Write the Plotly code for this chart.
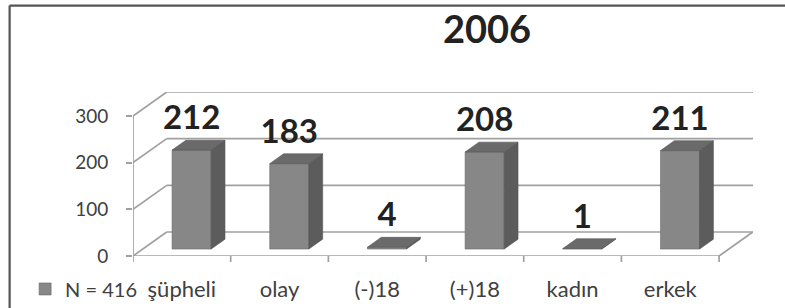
import plotly.graph_objects as go

# ---- data ----
categories = ["şüpheli", "olay", "(-)18", "(+)18", "kadın", "erkek"]
values = [212, 183, 4, 208, 1, 211]
series_name = "N = 416"
title_text = "2006"
y_ticks = [0, 100, 200, 300]

# ---- 3D look parameters (style) ----
DX, DY = 0.345, 51.4        # depth vector of the floor (category units, value units)
F_FRONT, F_BACK = 0.29, 0.70  # depth fraction of bar front / back faces
BAR_W = 0.40
FRONT_C, SIDE_C, TOP_C = "#878787", "#5c5c5c", "#6a6a6a"
GRID_C = "#a0a0a0"
FONT = "Lato"

n = len(categories)
ymax = max(y_ticks)
x_lo, x_hi = -0.5, n - 0.5 + DX + 0.002

fig = go.Figure()
shapes = []

def line(x0, y0, x1, y1, **kw):
    d = dict(type="line", xref="x", yref="y", x0=x0, y0=y0, x1=x1, y1=y1,
             line=dict(color=GRID_C, width=1.7), layer="below")
    d.update(kw)
    shapes.append(d)

# back wall gridlines + left wall diagonals
for v in y_ticks:
    line(x_lo + DX, v + DY, x_hi, v + DY)
    line(x_lo, v, x_lo + DX, v + DY)
# floor
line(x_lo, 0, n - 0.5, 0)
line(n - 0.5, 0, n - 0.5 + DX, DY)
# front value axis
line(x_lo, 0, x_lo, ymax)
# category tick marks
for k in range(n + 1):
    shapes.append(dict(type="line", xref="x", yref="paper", x0=k - 0.5, x1=k - 0.5,
                       y0=0, y1=-6 / 164, line=dict(color=GRID_C, width=1.7)))

# frame
shapes.append(dict(type="line", xref="paper", yref="paper", x0=-0.199, x1=1.06,
                   y0=1.527, y1=1.527, line=dict(color="#555555", width=2.2)))
shapes.append(dict(type="line", xref="paper", yref="paper", x0=-0.199, x1=-0.199,
                   y0=1.527, y1=-0.33, line=dict(color="#555555", width=2.2)))

# bars: front faces
off_x, off_y = F_FRONT * DX, F_FRONT * DY
dd_x, dd_y = (F_BACK - F_FRONT) * DX, (F_BACK - F_FRONT) * DY
xc = [i + off_x for i in range(n)]
fig.add_trace(go.Bar(x=xc, y=values, base=[off_y] * n, width=BAR_W,
                     marker=dict(color=FRONT_C, line=dict(color="#6a6a6a", width=0.6)),
                     name=series_name, showlegend=True, hoverinfo="skip"))

# side and top faces
sx, sy, tx, ty = [], [], [], []
for i, v in enumerate(values):
    xl, xr = xc[i] - BAR_W / 2, xc[i] + BAR_W / 2
    b, t = off_y, off_y + v
    sx += [xr, xr, xr + dd_x, xr + dd_x, xr, None]
    sy += [b, t, t + dd_y, b + dd_y, b, None]
    tx += [xl, xr, xr + dd_x, xl + dd_x, xl, None]
    ty += [t, t, t + dd_y, t + dd_y, t, None]
fig.add_trace(go.Scatter(x=sx, y=sy, fill="toself", fillcolor=SIDE_C, mode="lines",
                         line=dict(color="#505050", width=0.6), showlegend=False, hoverinfo="skip"))
fig.add_trace(go.Scatter(x=tx, y=ty, fill="toself", fillcolor=TOP_C, mode="lines",
                         line=dict(color="#555555", width=0.6), showlegend=False, hoverinfo="skip"))

# value labels
fig.add_trace(go.Scatter(x=xc, y=[off_y + v + dd_y + 6 for v in values], mode="text",
                         text=[str(v) for v in values], textposition="top center",
                         textfont=dict(family=FONT, size=33, color="#222222", weight="bold"),
                         showlegend=False, hoverinfo="skip", cliponaxis=False))

fig.update_layout(
    width=785, height=308,
    margin=dict(l=133, r=32, t=92, b=52, autoexpand=False),
    paper_bgcolor="white", plot_bgcolor="white",
    font=dict(family=FONT, color="#404040"),
    title=dict(text=title_text, x=0.571, xref="paper", xanchor="center",
               y=1 - 30 / 308, yref="container", yanchor="middle",
               font=dict(family=FONT, size=38, color="#222222", weight="bold")),
    shapes=shapes,
    showlegend=True,
    legend=dict(x=-0.174, y=-0.201, xref="paper", yref="paper", xanchor="left", yanchor="middle",
                font=dict(family=FONT, size=20, color="#404040"), bgcolor="rgba(0,0,0,0)",
                borderwidth=0),
    xaxis=dict(range=[x_lo, x_hi], tickmode="array", tickvals=list(range(n)), ticktext=categories,
               showgrid=False, zeroline=False, showline=False, ticks="",
               tickfont=dict(family=FONT, size=22, color="#404040"), ticklabelstandoff=18,
               automargin=False, fixedrange=True),
    yaxis=dict(range=[0, ymax + DY], tickmode="array", tickvals=y_ticks,
               showgrid=False, zeroline=False, showline=False, ticks="outside", ticklen=6,
               tickcolor=GRID_C, tickwidth=1.7,
               tickfont=dict(family=FONT, size=19, color="#404040"), ticklabelstandoff=14,
               automargin=False, fixedrange=True),
)

fig.write_html("out.html", config={"displayModeBar": False},
               post_script="document.body.style.margin='0';")
